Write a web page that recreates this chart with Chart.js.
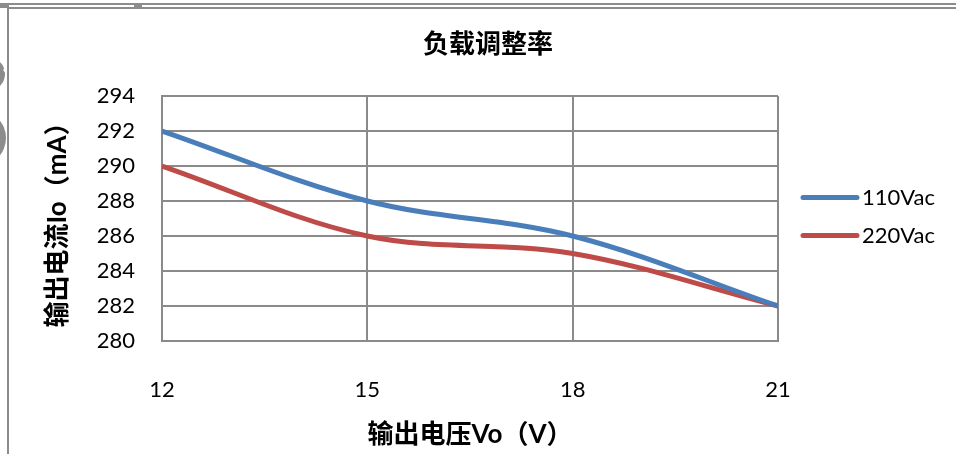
<!DOCTYPE html>
<html>
<head>
<meta charset="utf-8">
<script src="https://cdn.jsdelivr.net/npm/chart.js@4.4.0/dist/chart.umd.min.js"></script>
<style>
  html, body { margin: 0; padding: 0; background: #ffffff; }
  #wrap { width: 956px; height: 454px; }
  canvas { display: block; }
</style>
</head>
<body>
<div id="wrap"><canvas id="chart" width="956" height="454"></canvas></div>
<script>
// Output voltage (V) on the x axis
const outputVoltage = [12, 15, 18, 21];
// Output current (mA) per input line voltage
const current110Vac = [292, 288, 286, 282];
const current220Vac = [290, 286, 285, 282];
const seriesNames = ['110Vac', '220Vac'];
const yTickValues = [280, 282, 284, 286, 288, 290, 292, 294];

const chartTitle = '负载调整率';
const xAxisTitle = '输出电压Vo（V）';
const yAxisTitle = '输出电流Io（mA）';

const LATIN = 'Lato, "Noto Sans CJK SC", sans-serif';
const CJK = 'Lato, "Noto Sans CJK SC", sans-serif';
const GRID = '#8a8a8a';

function toPoints(xs, ys) {
  return xs.map((x, i) => ({ x: x, y: ys[i] }));
}

// Worksheet frame pieces along the top and left edges
const framePlugin = {
  id: 'frame',
  beforeDraw(chart) {
    const ctx = chart.ctx;
    ctx.save();
    ctx.fillStyle = '#ffffff';
    ctx.fillRect(0, 0, chart.width, chart.height);
    ctx.strokeStyle = '#8c8c8c';
    ctx.lineWidth = 1.8;
    ctx.beginPath();
    ctx.moveTo(8, 4); ctx.lineTo(chart.width, 4);
    ctx.moveTo(8, 8); ctx.lineTo(chart.width, 8);
    ctx.stroke();
    ctx.lineWidth = 2;
    ctx.beginPath();
    ctx.moveTo(8, 3); ctx.lineTo(8, chart.height);
    ctx.stroke();
    ctx.fillStyle = '#8c8c8c';
    ctx.fillRect(0, 3, 8, 5);
    ctx.fillRect(134, 3.5, 8, 5);
    // round handles cut by the left edge
    ctx.beginPath();
    ctx.arc(-12, 74, 17, 0, Math.PI * 2);
    ctx.fill();
    ctx.beginPath();
    ctx.arc(-22, 138, 28, 0, Math.PI * 2);
    ctx.fill();
    ctx.fillStyle = '#ffffff';
    ctx.beginPath();
    ctx.moveTo(3, 70); ctx.lineTo(7, 66); ctx.lineTo(7, 75); ctx.closePath();
    ctx.fill();
    ctx.restore();
  }
};

// Chart heading and the series key on the right
const labelsPlugin = {
  id: 'labels',
  afterDraw(chart) {
    const ctx = chart.ctx;
    const area = chart.chartArea;
    ctx.save();
    ctx.fillStyle = '#000000';
    ctx.textAlign = 'center';
    ctx.textBaseline = 'middle';
    ctx.font = 'bold 26px ' + CJK;
    ctx.fillText(chartTitle, 488, 45);

    const mid = (area.top + area.bottom) / 2 - 2;
    const gap = 38;
    const n = chart.data.datasets.length;
    chart.data.datasets.forEach((ds, i) => {
      const y = mid + (i - (n - 1) / 2) * gap;
      ctx.strokeStyle = ds.borderColor;
      ctx.lineWidth = 5;
      ctx.lineCap = 'round';
      ctx.beginPath();
      ctx.moveTo(area.right + 25, y);
      ctx.lineTo(area.right + 79, y);
      ctx.stroke();
      ctx.textAlign = 'left';
      ctx.font = '22px ' + LATIN;
      ctx.fillStyle = '#000000';
      ctx.fillText(ds.label, area.right + 84, y);
    });
    ctx.restore();
  }
};

new Chart(document.getElementById('chart'), {
  type: 'line',
  data: {
    datasets: [
      {
        label: seriesNames[0],
        data: toPoints(outputVoltage, current110Vac),
        borderColor: '#4a7ebb',
        borderWidth: 5,
        pointRadius: 0,
        tension: 0.35,
        fill: false
      },
      {
        label: seriesNames[1],
        data: toPoints(outputVoltage, current220Vac),
        borderColor: '#be4b48',
        borderWidth: 5,
        pointRadius: 0,
        tension: 0.35,
        fill: false
      }
    ]
  },
  options: {
    responsive: false,
    animation: false,
    devicePixelRatio: 1,
    layout: { padding: { top: 96, right: 178, bottom: 0, left: 0 } },
    plugins: {
      legend: { display: false },
      title: { display: false },
      tooltip: { enabled: false }
    },
    scales: {
      x: {
        type: 'linear',
        min: outputVoltage[0],
        max: outputVoltage[outputVoltage.length - 1],
        afterBuildTicks(scale) {
          scale.ticks = outputVoltage.map(v => ({ value: v }));
        },
        afterFit(scale) { scale.height = 113; },
        grid: { color: GRID, lineWidth: 2, drawTicks: false },
        border: { display: true, color: GRID, width: 2 },
        ticks: {
          color: '#000000',
          font: { family: LATIN, size: 22 },
          padding: 36,
          maxRotation: 0
        },
        title: {
          display: true,
          text: xAxisTitle,
          color: '#000000',
          font: { family: CJK, size: 26, weight: 'bold' },
          padding: { top: 0, bottom: 4 }
        }
      },
      y: {
        min: yTickValues[0],
        max: yTickValues[yTickValues.length - 1],
        afterBuildTicks(scale) {
          scale.ticks = yTickValues.map(v => ({ value: v }));
        },
        afterFit(scale) { scale.width = 162; },
        grid: { color: GRID, lineWidth: 2, drawTicks: false },
        border: { display: true, color: GRID, width: 2 },
        ticks: {
          color: '#000000',
          font: { family: LATIN, size: 22 },
          padding: 27
        },
        title: {
          display: true,
          text: yAxisTitle,
          color: '#000000',
          font: { family: CJK, size: 26, weight: 'bold' },
          padding: { top: 42, bottom: 0 }
        }
      }
    }
  },
  plugins: [framePlugin, labelsPlugin]
});
</script>
</body>
</html>
